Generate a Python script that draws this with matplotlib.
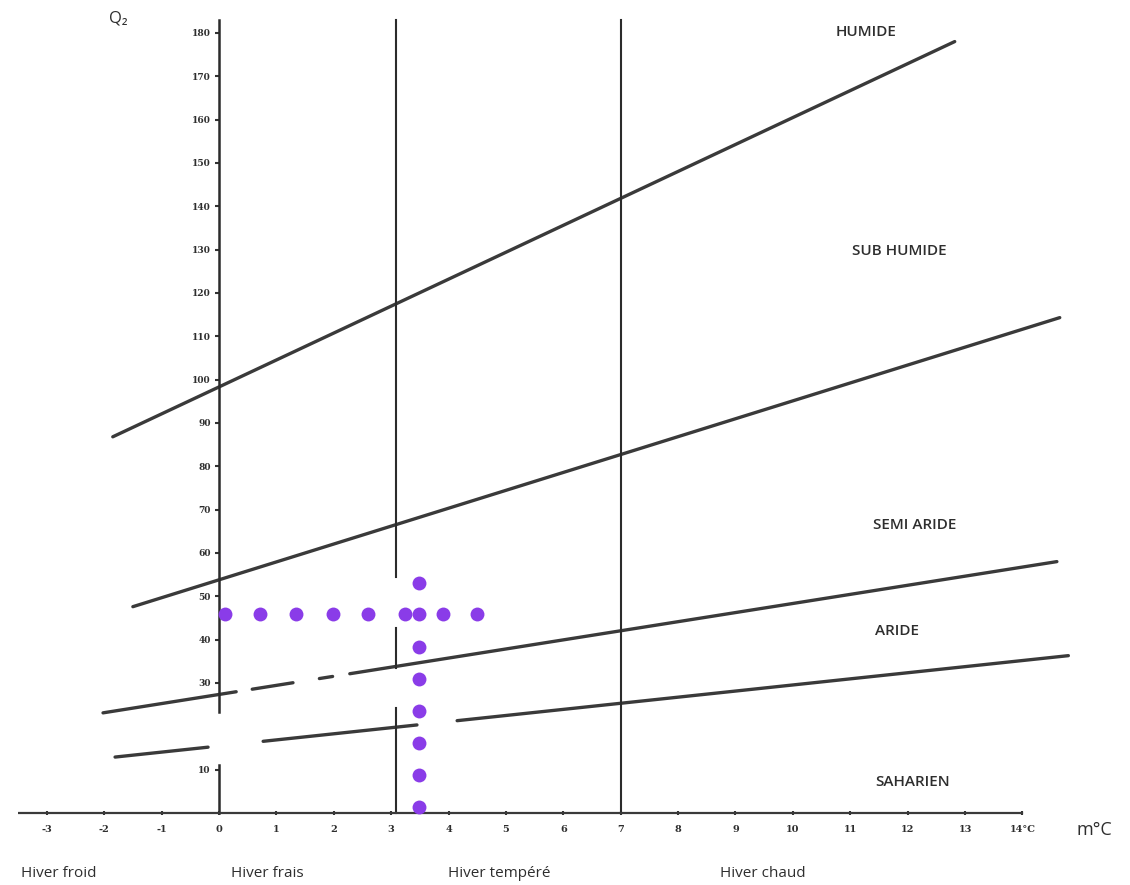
import matplotlib
matplotlib.use("Agg")
import matplotlib.pyplot as plt
import numpy as np

# ---------------- data ----------------
# Emberger climagram limit lines: visible pieces (m°C start, Q2 start, m°C end, Q2 end)
line_humide = [(-1.85, 86.8, 12.82, 178.0)]
line_subhumide = [(-1.50, 47.6, 14.65, 114.3)]
line_semiaride_x = [(-2.02, 0.30), (0.58, 1.29), (1.75, 1.98), (2.28, 14.60)]
line_semiaride_ends = (-2.02, 23.1, 14.60, 58.0)
line_aride_x = [(-1.81, -0.19), (0.77, 3.45), (4.15, 14.80)]
line_aride_ends = (-1.81, 12.9, 14.80, 36.3)

# winter-type separators (m°C) and their visible Q2 pieces
sep_x = [0, 3.08, 7]
sep_pieces = {
    0: [(0, 11.1), (23.3, 183)],
    3.08: [(0, 24.2), (33.5, 42.7), (54.5, 183)],
    7: [(0, 183)],
}

# station marker (dotted purple cross)
dots_h_x = [0.10, 0.71, 1.34, 1.99, 2.60, 3.24, 3.48, 3.90, 4.50]
dots_h_y = 46.0
dots_v_y = [53.1, 38.3, 30.9, 23.6, 16.2, 8.8, 1.4]
dots_v_x = 3.48

x_ticks = list(range(-3, 15))
x_tick_labels = [str(v) for v in range(-3, 14)] + ["14°C"]
y_ticks = [10] + list(range(30, 190, 10))
y_tick_labels = [str(v) for v in y_ticks]

zone_labels = ["HUMIDE", "SUB HUMIDE", "SEMI ARIDE", "ARIDE", "SAHARIEN"]
zone_pos = [(11.27, 180.2), (11.86, 129.7), (12.13, 66.5), (11.81, 42.0), (12.09, 7.2)]
winter_labels = ["Hiver froid", "Hiver frais", "Hiver tempéré", "Hiver chaud"]
winter_pos = [-2.8, 0.85, 4.88, 9.48]

# ---------------- figure ----------------
fig = plt.figure(figsize=(11.3, 8.85), dpi=100)
ax = fig.add_axes([0.016, 0.0716, 0.965, 0.9206])
ax.set_xlim(-3.5, 15.5)
ax.set_ylim(-2, 186)

line_col = "#3a3a3a"
txt_col = "#2e2e2e"
sans = ["Open Sans", "DejaVu Sans"]

def seg_y(ends, x):
    x0, y0, x1, y1 = ends
    return y0 + (y1 - y0) * (x - x0) / (x1 - x0)

for x0, y0, x1, y1 in line_humide + line_subhumide:
    ax.plot([x0, x1], [y0, y1], color=line_col, lw=2.4, solid_capstyle="round")
for xa, xb in line_semiaride_x:
    ax.plot([xa, xb], [seg_y(line_semiaride_ends, xa), seg_y(line_semiaride_ends, xb)],
            color=line_col, lw=2.4, solid_capstyle="round")
for xa, xb in line_aride_x:
    ax.plot([xa, xb], [seg_y(line_aride_ends, xa), seg_y(line_aride_ends, xb)],
            color=line_col, lw=2.4, solid_capstyle="round")

for sx in sep_x:
    for ya, yb in sep_pieces[sx]:
        ax.plot([sx, sx], [ya, yb], color="#2b2b2b", lw=1.5 if sx else 1.8)

# x axis line
ax.plot([-3.55, 14.0], [0, 0], color="#3a3a3a", lw=1.6)

# purple dotted cross
purple = "#8a3ce8"
ax.scatter(dots_h_x, [dots_h_y] * len(dots_h_x), s=100, color=purple, zorder=5, linewidths=0)
ax.scatter([dots_v_x] * len(dots_v_y), dots_v_y, s=100, color=purple, zorder=5, linewidths=0)

# spines / ticks
for s in ax.spines.values():
    s.set_visible(False)
ax.spines["left"].set_position(("data", 0))
ax.spines["bottom"].set_position(("data", 0))
ax.set_xticks(x_ticks)
ax.set_xticklabels(x_tick_labels, fontsize=7, family="DejaVu Serif", color=txt_col, fontweight="bold")
ax.set_yticks(y_ticks)
ax.set_yticklabels(y_tick_labels, fontsize=6.5, family="DejaVu Serif", color=txt_col, fontweight="bold")
ax.tick_params(axis="x", length=3, width=1.5, color="#333333", pad=7, direction="inout")
ax.tick_params(axis="y", length=3, width=1.5, color="#333333", pad=3, direction="out")

# labels
ax.text(-1.75, 183.3, "Q₂", fontsize=12, family=sans, color=txt_col, ha="center", va="center")
for lab, (tx, ty) in zip(zone_labels, zone_pos):
    ax.text(tx, ty, lab, fontsize=11, family=sans, color=txt_col, ha="center", va="center",
            fontweight="semibold")
ax.text(15.26, -3.9, "m°C", fontsize=13, family=sans, color=txt_col, ha="center", va="center")
for lab, wx in zip(winter_labels, winter_pos):
    ax.text(wx, -14.0, lab, fontsize=11, family=sans, color=txt_col, ha="center", va="center")

fig.savefig("out.png", dpi=100, facecolor="white")
